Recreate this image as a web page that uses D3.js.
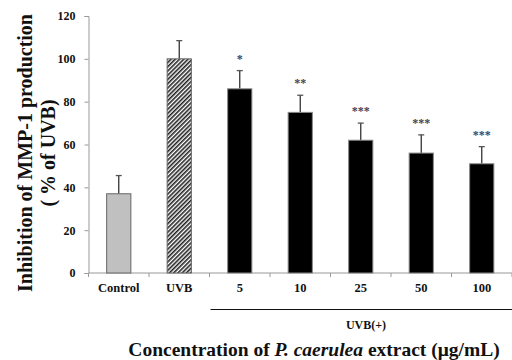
<!DOCTYPE html>
<html>
<head>
<meta charset="utf-8">
<script src="https://cdn.jsdelivr.net/npm/d3@7"></script>
<style>
  body { margin: 0; background: #fff; }
  text { font-family: "Liberation Serif", "DejaVu Serif", serif; font-weight: bold; }
</style>
</head>
<body>
<div id="chart"></div>
<script>
const categories = ["Control", "UVB", "5", "10", "25", "50", "100"];
const values = [37, 100, 86, 75, 62, 56, 51];
const errors = [8.5, 8.5, 8.5, 8, 8, 8.5, 8];
const stars = ["", "", "*", "**", "***", "***", "***"];
const yTicks = [0, 20, 40, 60, 80, 100, 120];

const width = 512;
const height = 360;
const margin = { top: 16, right: 0, bottom: 87, left: 88.5 };

const svg = d3
  .select("#chart")
  .append("svg")
  .attr("width", width)
  .attr("height", height);

// hatch for the UVB bar
const defs = svg.append("defs");
const pat = defs
  .append("pattern")
  .attr("id", "hatch")
  .attr("patternUnits", "userSpaceOnUse")
  .attr("width", 3)
  .attr("height", 3)
  .attr("patternTransform", "rotate(45)");
pat.append("rect").attr("width", 3).attr("height", 3).attr("fill", "#fff");
pat.append("rect").attr("width", 1.6).attr("height", 3).attr("fill", "#222");

const x = d3
  .scaleBand()
  .domain(categories)
  .range([margin.left, width - margin.right])
  .paddingInner(0.6)
  .paddingOuter(0.3);

const y = d3
  .scaleLinear()
  .domain([0, 120])
  .range([height - margin.bottom, margin.top]);

const y0 = y(0);

// y axis
const yAxis = svg
  .append("g")
  .attr("transform", `translate(${margin.left},0)`)
  .call(d3.axisLeft(y).tickValues(yTicks).tickSize(4).tickPadding(9));
yAxis.select(".domain").attr("stroke", "#999");
yAxis.selectAll(".tick line").attr("stroke", "#999");
yAxis.selectAll(".tick text").attr("font-size", 12).attr("fill", "#111");

// x axis with ticks between bands
const step = x.step();
const bounds = d3.range(categories.length + 1).map((i) => margin.left + i * step);
svg
  .append("line")
  .attr("x1", margin.left)
  .attr("x2", width)
  .attr("y1", y0)
  .attr("y2", y0)
  .attr("stroke", "#999");
svg
  .selectAll(".xtick")
  .data(bounds)
  .enter()
  .append("line")
  .attr("x1", (d) => d)
  .attr("x2", (d) => d)
  .attr("y1", y0)
  .attr("y2", y0 + 4)
  .attr("stroke", "#999");

svg
  .selectAll(".xlab")
  .data(categories)
  .enter()
  .append("text")
  .attr("x", (d) => x(d) + x.bandwidth() / 2)
  .attr("y", y0 + 19)
  .attr("text-anchor", "middle")
  .attr("font-size", 12.5)
  .attr("fill", "#111")
  .text((d) => d);

// error bars
svg
  .selectAll(".err")
  .data(categories)
  .enter()
  .append("line")
  .attr("x1", (d) => x(d) + x.bandwidth() / 2)
  .attr("x2", (d) => x(d) + x.bandwidth() / 2)
  .attr("y1", (d, i) => y(values[i]))
  .attr("y2", (d, i) => y(values[i] + errors[i]))
  .attr("stroke", "#333")
  .attr("stroke-width", 1.3);
svg
  .selectAll(".cap")
  .data(categories)
  .enter()
  .append("line")
  .attr("x1", (d) => x(d) + x.bandwidth() / 2 - 3)
  .attr("x2", (d) => x(d) + x.bandwidth() / 2 + 3)
  .attr("y1", (d, i) => y(values[i] + errors[i]))
  .attr("y2", (d, i) => y(values[i] + errors[i]))
  .attr("stroke", "#555")
  .attr("stroke-width", 1.3);

// bars
svg
  .selectAll(".bar")
  .data(categories)
  .enter()
  .append("rect")
  .attr("x", (d) => x(d))
  .attr("width", x.bandwidth())
  .attr("y", (d, i) => y(values[i]))
  .attr("height", (d, i) => y0 - y(values[i]))
  .attr("fill", (d, i) => (i === 0 ? "#c0c0c0" : i === 1 ? "url(#hatch)" : "#000"))
  .attr("stroke", (d, i) => (i < 2 ? "#666" : "#888"))
  .attr("stroke-width", 1);

// significance stars
svg
  .selectAll(".star")
  .data(categories)
  .enter()
  .append("text")
  .attr("x", (d) => x(d) + x.bandwidth() / 2)
  .attr("y", (d, i) => y(values[i] + errors[i]) - 8)
  .attr("text-anchor", "middle")
  .attr("font-size", 12)
  .attr("font-weight", "normal")
  .attr("fill", "#3a4660")
  .text((d, i) => stars[i]);

// UVB(+) bracket
svg
  .append("line")
  .attr("x1", x("5") - (step - x.bandwidth()) / 2 + 1)
  .attr("x2", width)
  .attr("y1", 309.5)
  .attr("y2", 309.5)
  .attr("stroke", "#111");
svg
  .append("text")
  .attr("x", 366)
  .attr("y", 329)
  .attr("text-anchor", "middle")
  .attr("font-size", 12)
  .attr("fill", "#111")
  .text("UVB(+)");

// x title
const xt = svg
  .append("text")
  .attr("x", 314)
  .attr("y", 356)
  .attr("text-anchor", "middle")
  .attr("font-size", 19.5)
  .attr("fill", "#111");
xt.append("tspan").text("Concentration of ");
xt.append("tspan").attr("font-style", "italic").text("P. caerulea");
xt.append("tspan").text(" extract (\u03bcg/mL)");

// y title
const yt = svg
  .append("text")
  .attr("transform", "translate(32,153) rotate(-90)")
  .attr("text-anchor", "middle")
  .attr("font-size", 20)
  .attr("fill", "#111");
yt.append("tspan").attr("x", 0).attr("dy", 0).text("Inhibition of MMP-1 production");
yt.append("tspan").attr("x", 0).attr("dy", 23).text("( % of UVB)");
</script>
</body>
</html>
